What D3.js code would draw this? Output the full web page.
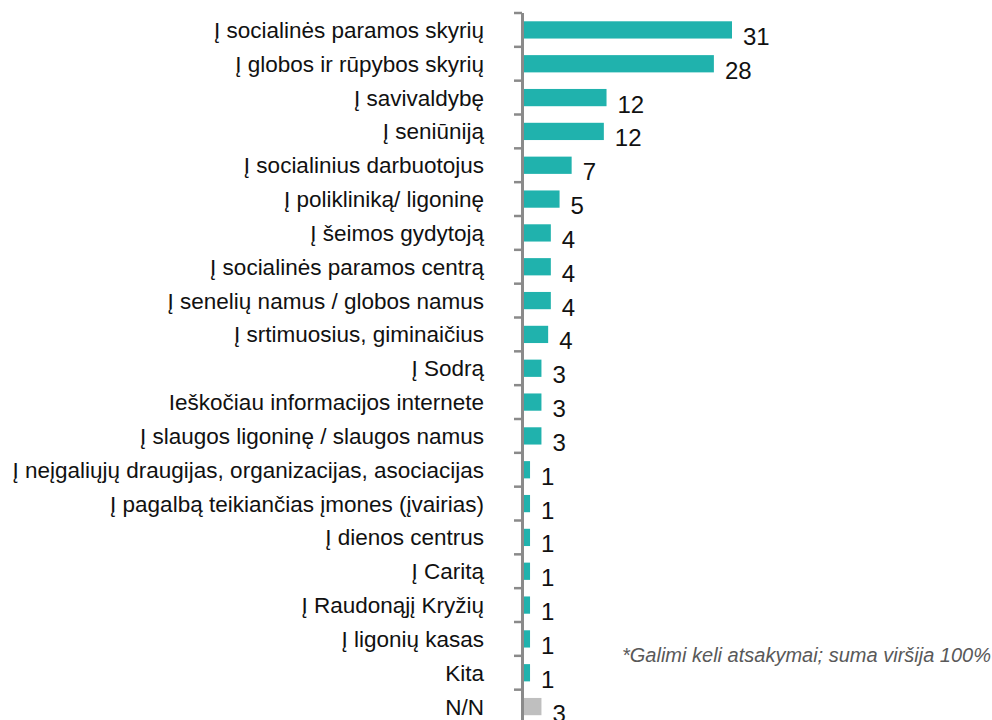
<!DOCTYPE html>
<html>
<head>
<meta charset="utf-8">
<script src="https://cdn.jsdelivr.net/npm/d3@7/dist/d3.min.js"></script>
<style>
  body { margin: 0; background: #fff; }
  svg { display: block; font-family: "Liberation Sans", Arial, sans-serif; }
</style>
</head>
<body>
<svg width="992" height="720"></svg>
<script>
// answers (multiple allowed), share of respondents
const categories = [
  'Į socialinės paramos skyrių',
  'Į globos ir rūpybos skyrių',
  'Į savivaldybę',
  'Į seniūniją',
  'Į socialinius darbuotojus',
  'Į polikliniką/ ligoninę',
  'Į šeimos gydytoją',
  'Į socialinės paramos centrą',
  'Į senelių namus / globos namus',
  'Į srtimuosius, giminaičius',
  'Į Sodrą',
  'Ieškočiau informacijos internete',
  'Į slaugos ligoninę / slaugos namus',
  'Į neįgaliųjų draugijas, organizacijas, asociacijas',
  'Į pagalbą teikiančias įmones (įvairias)',
  'Į dienos centrus',
  'Į Caritą',
  'Į Raudonąjį Kryžių',
  'Į ligonių kasas',
  'Kita',
  'N/N'
]
const values = [31, 28.3, 12.3, 11.9, 7.1, 5.3, 4.0, 4.0, 4.0, 3.6, 2.6, 2.6, 2.6,
  0.9, 0.9, 0.9, 0.9, 0.9, 0.9, 0.9, 2.6]
const note = '*Galimi keli atsakymai; suma viršija 100%'

const data = categories.map((c, i) => ({cat: c, val: values[i]}))

const svg = d3.select('svg')

const x = d3.scaleLinear().domain([0, 31]).range([524, 732])
const y = d3.scaleBand().domain(categories)
  .range([13, 723.5])
  .paddingInner(0.49)
  .paddingOuter(0.245)

const step = y.step()
const gap = (step - y.bandwidth()) / 2

// bars
svg.append('g').selectAll('rect')
  .data(data)
  .join('rect')
  .attr('x', x(0))
  .attr('y', d => y(d.cat))
  .attr('width', d => x(d.val) - x(0))
  .attr('height', y.bandwidth())
  .attr('fill', d => d.cat == 'N/N' ? '#bfbfbf' : '#20b2ad')

// axis line + ticks between categories
const axis = svg.append('g')
axis.append('line')
  .attr('x1', 522.5).attr('x2', 522.5)
  .attr('y1', y.range()[0]).attr('y2', y.range()[1])
  .attr('stroke', '#8a8a8a').attr('stroke-width', 3)

const bounds = categories.map(c => y(c) - gap)
axis.selectAll('.tick')
  .data(bounds)
  .join('line')
  .attr('x1', 514).attr('x2', 522)
  .attr('y1', d => d).attr('y2', d => d)
  .attr('stroke', '#8a8a8a').attr('stroke-width', 2.5)

// category labels
svg.append('g').selectAll('text')
  .data(data)
  .join('text')
  .attr('x', 484)
  .attr('y', d => y(d.cat) + y.bandwidth() / 2 + 8)
  .attr('text-anchor', 'end')
  .attr('font-size', 22.5)
  .attr('fill', '#111')
  .text(d => d.cat)

// value labels
svg.append('g').selectAll('text')
  .data(data)
  .join('text')
  .attr('x', d => x(d.val) + 11)
  .attr('y', d => y(d.cat) + y.bandwidth() / 2 + 15)
  .attr('font-size', 24)
  .attr('fill', '#111')
  .text(d => d3.format('.0f')(d.val))

svg.append('text')
  .attr('x', 622).attr('y', 662)
  .attr('font-size', 20)
  .attr('font-style', 'italic')
  .attr('fill', '#595959')
  .text(note)
</script>
</body>
</html>
